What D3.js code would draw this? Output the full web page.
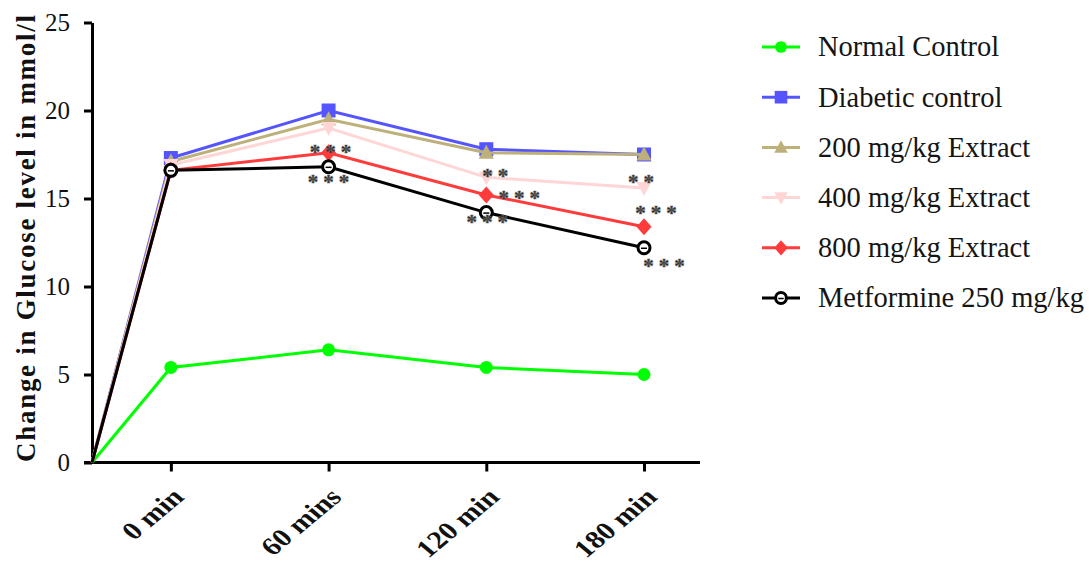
<!DOCTYPE html>
<html>
<head>
<meta charset="utf-8">
<script src="https://cdn.jsdelivr.net/npm/d3@7"></script>
<style>
  html, body { margin: 0; padding: 0; background: #fff; }
  svg { display: block; }
  text { font-family: "Liberation Serif", "Times New Roman", serif; }
</style>
</head>
<body>
<svg id="chart" width="1089" height="563"></svg>
<script>
// Time points and tick labels
const timeLabels = ["0 min", "60 mins", "120 min", "180 min"];
const yTicks = [0, 5, 10, 15, 20, 25];
const startValue = 0; // every curve starts from zero at the axis origin

// Change in glucose level (mmol/l) per group
const seriesNames = ["Normal Control", "Diabetic control", "200 mg/kg Extract",
                     "400 mg/kg Extract", "800 mg/kg Extract", "Metformine 250 mg/kg"];
const normalControl   = [5.4, 6.4, 5.4, 5.0];
const diabeticControl = [17.3, 20.0, 17.8, 17.5];
const extract200      = [17.1, 19.5, 17.6, 17.5];
const extract400      = [16.9, 19.0, 16.2, 15.6];
const extract800      = [16.6, 17.6, 15.2, 13.4];
const metformine      = [16.6, 16.8, 14.2, 12.2];

// Significance marks: series index, time index, label
const sigSeries = [4, 5, 3, 4, 5, 3, 4, 5];
const sigTimes  = [1, 1, 2, 2, 2, 3, 3, 3];
const sigLabels = ["***", "***", "**", "***", "***", "**", "***", "***"];

const allValues = [normalControl, diabeticControl, extract200, extract400, extract800, metformine];

// styling
const colors  = ["#00ff00", "#5555ff", "#bdb07a", "#ffd6d6", "#ff3b3b", "#000000"];
const symbols = ["circle", "square", "triangleUp", "triangleDown", "diamond", "openCircle"];
// offsets of each significance mark from its point (px)
const sigOffsets = [[2, -4], [0, 12], [9, -5], [33, 0], [1, 6], [-3, -9], [12, -17], [20, 15]];

const svg = d3.select("#chart");

const x = d3.scaleLinear().domain([-0.5, 3.355]).range([92, 700]);
const y = d3.scaleLinear().domain([0, 25]).range([462.5, 22.5]);

// Y axis
const yAxis = svg.append("g")
  .attr("transform", "translate(92,0)")
  .call(d3.axisLeft(y).tickValues(yTicks).tickSize(8).tickPadding(14).tickSizeOuter(0));
yAxis.select(".domain").attr("stroke", "#000").attr("stroke-width", 3);
yAxis.selectAll(".tick line").attr("stroke", "#000").attr("stroke-width", 3);
yAxis.selectAll(".tick text")
  .attr("font-family", "Liberation Serif, serif")
  .attr("font-size", 25).attr("fill", "#111");

// X axis
const xAxis = svg.append("g")
  .attr("transform", "translate(0,462.5)")
  .call(d3.axisBottom(x).tickValues(d3.range(timeLabels.length))
    .tickFormat(i => timeLabels[i]).tickSize(9).tickSizeOuter(0));
xAxis.select(".domain").attr("stroke", "#000").attr("stroke-width", 3)
  .attr("d", `M84,0H700`);
xAxis.selectAll(".tick line").attr("stroke", "#000").attr("stroke-width", 3);
xAxis.selectAll(".tick text")
  .attr("font-family", "Liberation Serif, serif")
  .attr("font-size", 25).attr("font-weight", "bold").attr("fill", "#111")
  .attr("text-anchor", "end")
  .attr("y", 0).attr("dy", 0)
  .attr("transform", "translate(14,36) scale(1.2,1) rotate(-45)");

// Y axis title
svg.append("text")
  .attr("transform", "translate(35,238.5) rotate(-90)")
  .attr("text-anchor", "middle")
  .attr("font-size", 27).attr("font-weight", "bold").attr("fill", "#111")
  .attr("textLength", 447).attr("lengthAdjust", "spacing")
  .text("Change in Glucose level in mmol/l");

// markers
function drawMarker(g, kind, color, cx, cy, scale) {
  const s = scale || 1;
  if (kind === "circle") {
    g.append("circle").attr("cx", cx).attr("cy", cy).attr("r", 6.5 * s).attr("fill", color);
  } else if (kind === "square") {
    g.append("rect").attr("x", cx - 7 * s).attr("y", cy - 7 * s)
      .attr("width", 14 * s).attr("height", 14 * s).attr("fill", color);
  } else if (kind === "triangleUp") {
    g.append("path").attr("fill", color)
      .attr("d", `M${cx},${cy - 8 * s}L${cx + 7.5 * s},${cy + 6 * s}L${cx - 7.5 * s},${cy + 6 * s}Z`);
  } else if (kind === "triangleDown") {
    g.append("path").attr("fill", color)
      .attr("d", `M${cx},${cy + 8 * s}L${cx + 7.5 * s},${cy - 6 * s}L${cx - 7.5 * s},${cy - 6 * s}Z`);
  } else if (kind === "diamond") {
    g.append("path").attr("fill", color)
      .attr("d", `M${cx},${cy - 8.5 * s}L${cx + 7.5 * s},${cy}L${cx},${cy + 8.5 * s}L${cx - 7.5 * s},${cy}Z`);
  } else if (kind === "openCircle") {
    g.append("circle").attr("cx", cx).attr("cy", cy).attr("r", 6 * s)
      .attr("fill", "#fff").attr("stroke", color).attr("stroke-width", 3);
    g.append("line").attr("x1", cx - 3 * s).attr("x2", cx + 3 * s)
      .attr("y1", cy + 0.5).attr("y2", cy + 0.5).attr("stroke", color).attr("stroke-width", 1.5);
  }
}

const line = d3.line().x(d => x(d[0])).y(d => y(d[1]));
const plot = svg.append("g");

allValues.forEach((vals, si) => {
  const pts = [[-0.5, startValue]].concat(vals.map((v, i) => [i, v]));
  plot.append("path").attr("d", line(pts))
    .attr("fill", "none").attr("stroke", colors[si]).attr("stroke-width", 3)
    .attr("stroke-linejoin", "miter");
  const mg = plot.append("g");
  vals.forEach((v, i) => drawMarker(mg, symbols[si], colors[si], x(i), y(v)));
});

// significance asterisks
const sig = svg.append("g");
sigLabels.forEach((lab, k) => {
  const si = sigSeries[k], ti = sigTimes[k];
  const cx = x(ti) + sigOffsets[k][0];
  const cy = y(allValues[si][ti]) + sigOffsets[k][1];
  const n = lab.length, gap = 15.5;
  for (let j = 0; j < n; j++) {
    sig.append("text")
      .attr("x", cx + (j - (n - 1) / 2) * gap)
      .attr("y", cy)
      .attr("dy", "0.5em")
      .attr("text-anchor", "middle")
      .attr("font-size", 21).attr("font-weight", "bold")
      .attr("fill", "#222")
      .attr("stroke", "#666").attr("stroke-width", 0.6)
      .text("*");
  }
});

// legend
const legend = svg.append("g");
seriesNames.forEach((name, i) => {
  const ly = 47 + i * 50.2;
  legend.append("line").attr("x1", 762).attr("x2", 800).attr("y1", ly).attr("y2", ly)
    .attr("stroke", colors[i]).attr("stroke-width", 3);
  drawMarker(legend, symbols[i], colors[i], 781, ly, 0.9);
  legend.append("text").attr("x", 818).attr("y", ly).attr("dy", "0.33em")
    .attr("font-size", 28.5).attr("fill", "#151515").text(name);
});
</script>
</body>
</html>
